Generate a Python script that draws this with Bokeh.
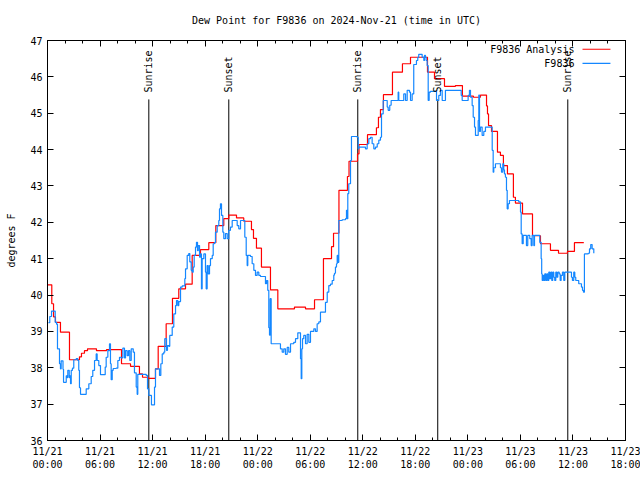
from math import pi
from bokeh.plotting import figure
from bokeh.models import Range1d, FixedTicker, LinearAxis, Label, CustomJSTickFormatter
from bokeh.embed import file_html
from bokeh.resources import INLINE

# ---------------- data (hours since 2024-11-21 00:00 UTC, dew point in F) ----------------
ana_hours = [0.00, 0.49, 0.69, 0.91, 1.48, 2.51, 3.65, 3.88, 4.22, 4.57, 5.59, 6.74, 8.45, 9.48,
             10.50, 10.85, 11.53, 12.33, 12.64, 13.55, 14.27, 14.99, 15.76, 16.52, 17.47, 18.42,
             19.22, 20.13, 20.70, 21.58, 22.41, 23.29, 23.52, 23.86, 24.43, 25.46, 26.30, 28.20,
             29.46, 30.49, 31.51, 32.43, 32.66, 33.28, 34.25, 34.43, 35.40, 35.57, 36.54, 37.56,
             37.79, 38.02, 38.36, 39.39, 40.53, 41.45, 43.39, 44.19, 45.33, 46.58, 47.38, 48.64,
             49.44, 50.13, 50.24, 50.36, 50.70, 51.38, 51.72, 52.06, 52.52, 53.20, 53.43, 54.24,
             55.38, 56.29, 57.43, 58.35, 59.37, 60.17, 61.24]
ana_dewpt = [40.28, 39.76, 39.40, 39.25, 38.98, 38.22, 38.30, 38.40, 38.47, 38.52, 38.47, 38.50, 38.11, 38.04,
             37.83, 37.74, 37.71, 37.97, 38.59, 39.21, 39.91, 40.17, 40.30, 41.09, 41.25, 41.44,
             41.91, 42.10, 42.20, 42.12, 42.03, 41.80, 41.56, 41.29, 40.77, 40.14, 39.62, 39.67,
             39.62, 39.87, 41.00, 41.33, 41.70, 42.88, 43.26, 43.68, 43.88, 44.14, 44.41, 44.60,
             44.89, 45.10, 45.51, 46.13, 46.36, 46.54, 46.13, 45.95, 45.74, 45.76, 45.47, 45.44,
             45.50, 45.20, 44.98, 44.66, 44.50, 43.93, 43.84, 43.56, 43.33, 42.69, 42.53, 42.23,
             41.63, 41.41, 41.23, 41.15, 41.20, 41.44, 41.44]

obs_hours = [0.11, 0.26, 0.46, 0.80, 0.88, 1.03, 1.14, 1.37, 1.48, 1.56, 1.68, 1.77, 1.83, 2.02,
             2.14, 2.25, 2.32, 2.48, 2.55, 2.63, 2.71, 2.85, 3.00, 3.28, 3.46, 3.57, 3.65, 3.77,
             4.03, 4.42, 4.72, 4.99, 5.17, 5.37, 5.56, 5.67, 5.86, 6.05, 6.43, 6.59, 6.70, 6.89,
             7.08, 7.19, 7.27, 7.39, 7.50, 7.84, 8.03, 8.22, 8.41, 8.60, 8.79, 8.91, 9.10, 9.25,
             9.40, 9.56, 9.79, 9.93, 10.13, 10.24, 10.31, 10.88, 11.27, 11.42, 11.57, 11.76, 11.87,
             12.14, 12.22, 12.33, 12.64, 12.79, 12.94, 13.10, 13.28, 13.39, 13.59, 13.70, 13.85,
             13.96, 14.12, 14.24, 14.42, 14.62, 14.73, 14.88, 14.99, 15.19, 15.38, 15.56, 15.68,
             15.76, 15.95, 16.13, 16.25, 16.41, 16.52, 16.64, 16.75, 16.90, 17.01, 17.13, 17.21,
             17.36, 17.47, 17.58, 17.66, 17.85, 18.04, 18.12, 18.23, 18.35, 18.50, 18.61, 18.81,
             18.92, 19.07, 19.18, 19.38, 19.56, 19.64, 19.75, 19.87, 20.02, 20.13, 20.32, 20.52,
             20.70, 20.89, 21.09, 21.47, 21.66, 21.84, 22.04, 22.41, 22.53, 22.69, 22.80, 22.87,
             23.18, 23.37, 23.56, 23.75, 23.94, 24.13, 24.32, 24.70, 24.89, 25.01, 25.15, 25.27,
             25.35, 25.43, 25.54, 25.84, 26.41, 26.60, 26.80, 26.98, 27.17, 27.37, 27.55, 27.75,
             28.12, 28.32, 28.58, 28.81, 28.89, 28.97, 29.04, 29.12, 29.26, 29.46, 29.65, 29.84,
             30.03, 30.22, 30.41, 30.60, 30.79, 30.98, 31.17, 31.55, 31.74, 31.94, 32.12, 32.31,
             32.51, 32.69, 32.77, 32.88, 33.00, 33.08, 33.15, 33.26, 33.65, 34.03, 34.14, 34.22,
             34.29, 34.40, 34.60, 34.71, 35.17, 35.36, 35.48, 35.54, 35.93, 36.31, 36.50, 36.69,
             36.88, 37.07, 37.26, 37.45, 37.65, 37.83, 38.02, 38.14, 38.33, 38.59, 38.79, 38.90,
             39.08, 39.24, 39.93, 40.04, 40.11, 40.50, 40.68, 40.88, 41.07, 41.33, 41.45, 41.64,
             41.82, 42.02, 42.13, 42.28, 42.39, 42.67, 42.78, 42.97, 43.05, 43.16, 43.24, 43.35,
             43.47, 43.58, 43.73, 44.30, 44.42, 44.56, 44.68, 44.87, 45.07, 45.33, 45.44, 47.08,
             47.24, 47.35, 47.92, 48.03, 48.18, 48.30, 48.49, 48.61, 48.76, 48.87, 49.06, 49.18,
             49.25, 49.33, 49.44, 49.63, 49.82, 50.01, 50.66, 50.78, 50.89, 50.96, 51.15, 51.53,
             51.72, 51.84, 51.99, 52.10, 52.18, 52.29, 52.41, 52.49, 52.60, 52.75, 53.81, 54.01,
             54.09, 54.20, 54.32, 54.58, 54.69, 54.84, 55.07, 55.23, 55.34, 55.53, 55.61, 56.10,
             56.21, 56.37, 56.43, 56.49, 56.60, 56.67, 56.78, 56.90, 57.01, 57.12, 57.24, 57.35,
             57.47, 57.58, 57.69, 57.81, 57.92, 58.04, 58.15, 58.27, 58.43, 58.54, 58.65, 58.80,
             58.95, 59.07, 59.72, 59.83, 59.94, 60.09, 60.21, 60.32, 60.55, 60.66, 60.86, 60.97,
             61.09, 61.20, 61.31, 61.54, 61.74, 61.89, 62.03, 62.19, 62.38]
obs_dewpt = [39.24, 39.41, 39.56, 39.56, 39.25, 39.20, 38.52, 38.11, 37.97, 38.19, 38.19, 37.96, 37.60, 37.60,
             37.78, 37.73, 37.93, 37.73, 37.78, 37.56, 37.93, 37.99, 38.22, 38.25, 38.20, 37.93, 37.45, 37.27,
             37.27, 37.42, 37.56, 37.76, 37.93, 38.20, 38.38, 38.20, 38.06, 37.81, 37.81, 38.02, 38.29, 38.47,
             38.66, 38.11, 37.67, 37.93, 37.98, 37.99, 38.20, 38.29, 38.27, 38.54, 38.27, 38.47, 38.33, 38.47,
             38.20, 38.52, 38.43, 37.86, 37.47, 37.27, 37.82, 37.82, 37.79, 37.42, 37.24, 37.24, 36.98,
             36.98, 37.47, 37.97, 37.97, 37.79, 38.11, 38.38, 38.43, 38.80, 38.48, 38.61, 38.59,
             38.89, 38.89, 39.12, 39.48, 39.71, 39.85, 39.71, 39.82, 40.22, 40.25, 40.25, 40.45,
             40.72, 41.09, 41.14, 40.91, 40.68, 40.63, 40.77, 41.09, 41.32, 41.45, 41.22, 41.36,
             41.04, 41.13, 40.17, 41.00, 41.13, 40.63, 40.17, 40.81, 40.58, 40.81, 41.00, 41.09,
             41.41, 41.44, 41.73, 41.91, 42.05, 42.37, 42.51, 42.19, 41.73, 41.55, 41.69, 41.55,
             41.78, 41.87, 42.05, 42.05, 41.91, 41.82, 42.05, 42.05, 41.59, 41.09, 40.81, 41.09,
             41.06, 40.86, 40.68, 40.54, 40.63, 40.54, 40.51, 40.51, 40.31, 40.40, 40.13, 39.10,
             38.90, 39.90, 38.66, 38.66, 38.66, 38.52, 38.43, 38.52, 38.37, 38.56, 38.43, 38.66,
             38.70, 38.80, 38.96, 38.96, 38.25, 37.70, 38.52, 38.80, 38.89, 38.66, 38.92, 38.70,
             39.00, 39.00, 39.07, 39.00, 39.21, 39.26, 39.53, 39.53, 39.80, 40.08, 40.26, 40.30,
             40.40, 40.55, 40.60, 40.77, 40.86, 41.09, 40.90, 42.05, 42.07, 42.10, 42.33, 42.10,
             42.79, 43.06, 43.70, 44.36, 44.36, 44.34, 44.02, 44.07, 44.07, 44.02, 44.16, 44.30,
             44.34, 44.16, 44.02, 44.07, 44.16, 44.26, 44.34, 44.98, 45.35, 45.35, 45.17, 45.08,
             45.22, 45.35, 45.35, 45.58, 45.35, 45.35, 45.53, 45.35, 45.63, 45.58, 45.35, 45.53,
             46.34, 46.34, 46.45, 46.54, 46.62, 46.62, 46.54, 46.45, 46.59, 46.54, 46.45, 46.31,
             45.35, 45.58, 45.60, 45.60, 45.35, 45.35, 45.49, 45.63, 45.35, 45.35, 45.63, 45.63,
             45.49, 45.35, 45.35, 45.49, 45.63, 45.44, 45.21, 44.89, 44.62, 44.39, 44.39, 44.80,
             45.50, 44.50, 44.62, 44.39, 44.50, 44.62, 44.62, 43.98, 43.38, 43.50, 43.61, 43.61,
             43.50, 43.38, 43.61, 43.44, 43.33, 43.24, 42.88, 42.37, 42.51, 42.60, 42.56, 42.28,
             41.68, 41.41, 41.64, 41.64, 41.36, 41.64, 41.55, 41.36, 41.64, 41.36, 41.64, 41.64,
             41.45, 41.00, 40.58, 40.40, 40.54, 40.40, 40.58, 40.40, 40.58, 40.40, 40.63, 40.45,
             40.63, 40.40, 40.63, 40.49, 40.40, 40.63, 40.49, 40.63, 40.58, 40.40, 40.54, 40.63,
             40.40, 40.63, 40.63, 40.49, 40.40, 40.63, 40.49, 40.40, 40.40, 40.31, 40.31, 40.22,
             40.13, 40.08, 41.13, 41.13, 41.15, 41.27, 41.39, 41.27, 41.15]

sun_hours = [11.57, 20.70, 35.43, 44.56, 59.41]
sun_labels = ["Sunrise", "Sunset", "Sunrise", "Sunset", "Sunrise"]

x_tick_hours = [0, 6, 12, 18, 24, 30, 36, 42, 48, 54, 60, 66]
x_tick_labels = ["11/21\n00:00", "11/21\n06:00", "11/21\n12:00", "11/21\n18:00",
                 "11/22\n00:00", "11/22\n06:00", "11/22\n12:00", "11/22\n18:00",
                 "11/23\n00:00", "11/23\n06:00", "11/23\n12:00", "11/23\n18:00"]
x_minor_hours = [h for h in range(0, 67, 2) if h % 6 != 0]
y_ticks = [36, 37, 38, 39, 40, 41, 42, 43, 44, 45, 46, 47]

series_names = ["F9836 Analysis", "F9836"]
title_text = "Dew Point for F9836 on 2024-Nov-21 (time in UTC)"

# ---------------- style ----------------
FONT = "DejaVu Sans Mono"
FS = "10px"
RED = "#ff0000"
BLUE = "#1487ff"
X0, X1, Y0, Y1 = 0, 66, 36, 47

p = figure(width=640, height=480, output_backend="svg", toolbar_location=None,
           x_range=Range1d(X0, X1), y_range=Range1d(Y0, Y1),
           min_border_left=47, min_border_right=15, min_border_top=40, min_border_bottom=40,
           background_fill_color="white", border_fill_color="white")
p.grid.visible = False
p.outline_line_color = "black"
p.outline_line_width = 1

p.title.text = title_text
p.title.align = "center"
p.title.vertical_align = "top"
p.title.text_font = FONT
p.title.text_font_size = FS
p.title.text_font_style = "normal"
p.title.text_color = "black"
p.title.standoff = 26

xt = FixedTicker(ticks=x_tick_hours, minor_ticks=x_minor_hours)
yt = FixedTicker(ticks=y_ticks, minor_ticks=[])
blank = CustomJSTickFormatter(code="return ''")


def style_axis(ax, ticker, show_labels):
    ax.ticker = ticker
    ax.axis_line_color = "black"
    ax.major_tick_line_color = "black"
    ax.minor_tick_line_color = "black"
    ax.major_tick_in = 6
    ax.major_tick_out = 0
    ax.minor_tick_in = 3
    ax.minor_tick_out = 0
    ax.major_label_text_font = FONT
    ax.major_label_text_font_size = FS
    ax.major_label_text_color = "black"
    ax.axis_label_text_font = FONT
    ax.axis_label_text_font_size = FS
    ax.axis_label_text_font_style = "normal"
    ax.axis_label_text_color = "black"
    if not show_labels:
        ax.formatter = blank
        ax.major_label_standoff = 0
        ax.major_label_text_font_size = "1px"


xa = p.xaxis[0]
style_axis(xa, xt, True)
xa.major_label_overrides = {h: lab for h, lab in zip(x_tick_hours, x_tick_labels)}
xa.major_label_standoff = 5

ya = p.yaxis[0]
style_axis(ya, yt, True)
ya.major_label_overrides = {v: str(v) for v in y_ticks}
ya.axis_label = "degrees F"
ya.major_label_standoff = 5
ya.axis_label_standoff = 10

top = LinearAxis()
style_axis(top, xt, False)
p.add_layout(top, "above")
right = LinearAxis()
style_axis(right, yt, False)
p.add_layout(right, "right")

# sunrise / sunset markers
LINE_TOP = 45.38
LABEL_BASE = 45.57
p.segment(x0=sun_hours, y0=[Y0] * len(sun_hours), x1=sun_hours, y1=[LINE_TOP] * len(sun_hours),
          line_color="black", line_width=1)
for h, lab in zip(sun_hours, sun_labels):
    p.add_layout(Label(x=h, y=LABEL_BASE, text=lab, angle=pi / 2, text_align="left",
                       text_baseline="middle", text_font=FONT, text_font_size=FS,
                       text_color="black"))

# data
p.step(x=ana_hours, y=ana_dewpt, mode="after", line_color=RED, line_width=1.2)
p.step(x=obs_hours, y=obs_dewpt, mode="after", line_color=BLUE, line_width=1.2)

# legend (gnuplot style: text then sample line)
LEG_TXT_X = 60.17
LEG_L0, LEG_L1 = 61.09, 64.28
for name, col, ly in zip(series_names, [RED, BLUE], [46.76, 46.37]):
    p.add_layout(Label(x=LEG_TXT_X, y=ly, text=name, text_align="right", text_baseline="middle",
                       text_font=FONT, text_font_size=FS, text_color="black"))
    p.line(x=[LEG_L0, LEG_L1], y=[ly, ly], line_color=col, line_width=1.2)

open("out.html", "w").write(file_html(p, INLINE))
